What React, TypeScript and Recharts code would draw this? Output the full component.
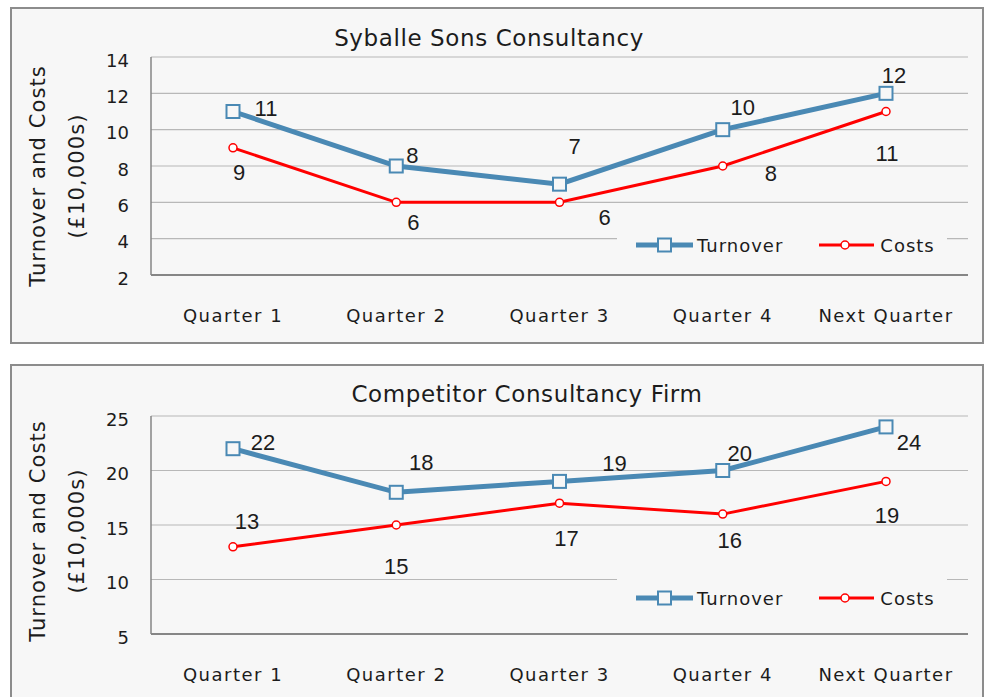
import { LineChart, Line, XAxis, YAxis, CartesianGrid } from "recharts";

const quarters = ["Quarter 1", "Quarter 2", "Quarter 3", "Quarter 4", "Next Quarter"];

const syballeTurnover = [11, 8, 7, 10, 12];
const syballeCosts = [9, 6, 6, 8, 11];
const syballeTicks = [2, 4, 6, 8, 10, 12, 14];

const competitorTurnover = [22, 18, 19, 20, 24];
const competitorCosts = [13, 15, 17, 16, 19];
const competitorTicks = [5, 10, 15, 20, 25];

// where each data label sits relative to its point (dx, dy)
const syballeTurnoverLabelPos = [[33, -3], [16, -11], [15, -38], [20, -22], [8, -18]];
const syballeCostsLabelPos = [[6, 25], [17, 20], [45, 15], [48, 7], [1, 42]];
const competitorTurnoverLabelPos = [[30, -6], [25, -30], [55, -18], [17, -17], [23, 16]];
const competitorCostsLabelPos = [[14, -25], [0, 41], [7, 35], [7, 26], [1, 34]];

const BLUE = "#4a89b4";
const RED = "#ff0000";
const BG = "#f7f7f7";
const TEXT = "#1c1c1c";
const FONT = "'DejaVu Sans', sans-serif";
const LABEL_FONT = "'Liberation Sans', sans-serif";

function SquareDot(props: any) {
  const { cx, cy, index } = props;
  if (cx == null || cy == null) return <g key={`sq-${index}`} />;
  return (
    <rect key={`sq-${index}`} x={cx - 6.5} y={cy - 6.5} width={13} height={13}
      fill={BG} stroke={BLUE} strokeWidth={2} />
  );
}

function CircleDot(props: any) {
  const { cx, cy, index } = props;
  if (cx == null || cy == null) return <g key={`ci-${index}`} />;
  return <circle key={`ci-${index}`} cx={cx} cy={cy} r={4} fill="#fff" stroke={RED} strokeWidth={1.5} />;
}

function makeLabel(pos: number[][]) {
  return (props: any) => {
    const { x, y, value, index } = props;
    const [dx, dy] = pos[index] || [0, 0];
    return (
      <text key={`lb-${index}`} x={x + dx} y={y + dy} textAnchor="middle" dominantBaseline="central"
        fontFamily={LABEL_FONT} fontSize={22} fill={TEXT}>
        {value}
      </text>
    );
  };
}

const XTick = (p: any) => (
  <text x={p.x} y={p.y + 38} textAnchor="middle" dominantBaseline="central"
    fontFamily={FONT} fontSize={18} letterSpacing={1.5} fill={TEXT}>
    {p.payload.value}
  </text>
);

const YTick = (p: any) => (
  <text x={p.x - 20} y={p.y + 3} textAnchor="end" dominantBaseline="central"
    fontFamily={FONT} fontSize={18} fill={TEXT}>
    {p.payload.value}
  </text>
);

const YLabel = ({ cy }: { cy: number }) => (
  <g fontFamily={FONT} fontSize={21} letterSpacing={1.1} fill={TEXT}>
    <text x={26} y={cy} transform={`rotate(-90, 26, ${cy})`} textAnchor="middle" dominantBaseline="central">
      Turnover and Costs
    </text>
    <text x={65} y={cy} transform={`rotate(-90, 65, ${cy})`} textAnchor="middle" dominantBaseline="central">
      (£10,000s)
    </text>
  </g>
);

function LegendBox({ left, top, height }: { left: number; top: number; height: number }) {
  return (
    <div style={{
      position: "absolute", left, top, width: 330, height, background: BG,
      display: "flex", alignItems: "center", paddingLeft: 19, boxSizing: "border-box",
      fontFamily: FONT, fontSize: 18, letterSpacing: 1, color: TEXT,
    }}>
      <svg width={57} height={16}>
        <line x1={0} y1={8} x2={57} y2={8} stroke={BLUE} strokeWidth={5} />
        <rect x={22} y={1.5} width={13} height={13} fill={BG} stroke={BLUE} strokeWidth={2} />
      </svg>
      <span style={{ marginLeft: 4 }}>Turnover</span>
      <svg width={55} height={16} style={{ marginLeft: 36 }}>
        <line x1={0} y1={8} x2={55} y2={8} stroke={RED} strokeWidth={3} />
        <circle cx={26} cy={8} r={4} fill="#fff" stroke={RED} strokeWidth={1.5} />
      </svg>
      <span style={{ marginLeft: 6 }}>Costs</span>
    </div>
  );
}

type PanelProps = {
  top: number;
  height: number;
  title: string;
  titleX: number;
  titleY: number;
  turnover: number[];
  costs: number[];
  ticks: number[];
  plotTop: number;
  xAxisHeight: number;
  labelCy: number;
  turnoverPos: number[][];
  costsPos: number[][];
  legendTop: number;
  legendHeight: number;
};

function Panel(p: PanelProps) {
  const data = quarters.map((q, i) => ({ quarter: q, turnover: p.turnover[i], costs: p.costs[i] }));
  return (
    <div style={{
      position: "absolute", left: 10, top: p.top, width: 974, height: p.height,
      border: "2px solid #8c8c8c", boxSizing: "border-box", background: BG,
    }}>
      <LineChart width={970} height={p.height - 4} data={data}
        margin={{ top: p.plotTop, right: 14, bottom: 0, left: 0 }}>
        <CartesianGrid vertical={false} stroke="#b8b8b8" strokeWidth={1.2} />
        <XAxis dataKey="quarter" height={p.xAxisHeight} padding={{ left: 82, right: 82 }}
          tickLine={false} tickSize={0} tick={<XTick />} axisLine={{ stroke: "#868686", strokeWidth: 2 }} />
        <YAxis width={139} domain={[p.ticks[0], p.ticks[p.ticks.length - 1]]} ticks={p.ticks}
          tickLine={false} tickSize={0} tick={<YTick />} axisLine={{ stroke: "#868686", strokeWidth: 1.5 }}
          label={<YLabel cy={p.labelCy} />} />
        <Line dataKey="costs" stroke={RED} strokeWidth={3} dot={CircleDot}
          label={makeLabel(p.costsPos)} isAnimationActive={false} />
        <Line dataKey="turnover" stroke={BLUE} strokeWidth={5} dot={SquareDot}
          label={makeLabel(p.turnoverPos)} isAnimationActive={false} />
      </LineChart>
      <div style={{
        position: "absolute", left: p.titleX, top: p.titleY, transform: "translate(-50%, -50%)",
        whiteSpace: "nowrap", fontFamily: FONT, fontSize: 23, letterSpacing: 0.6, color: TEXT,
      }}>
        {p.title}
      </div>
      <LegendBox left={605} top={p.legendTop} height={p.legendHeight} />
    </div>
  );
}

export default function App() {
  return (
    <div style={{ position: "absolute", left: 0, top: 0, width: 984, height: 697, background: "#fff", overflow: "hidden" }}>
      <Panel top={7} height={337} title="Syballe Sons Consultancy" titleX={477} titleY={29}
        turnover={syballeTurnover} costs={syballeCosts} ticks={syballeTicks}
        plotTop={48} xAxisHeight={67} labelCy={167}
        turnoverPos={syballeTurnoverLabelPos} costsPos={syballeCostsLabelPos}
        legendTop={220} legendHeight={32} />
      <Panel top={364} height={347} title="Competitor Consultancy Firm" titleX={515} titleY={28}
        turnover={competitorTurnover} costs={competitorCosts} ticks={competitorTicks}
        plotTop={50} xAxisHeight={75} labelCy={165}
        turnoverPos={competitorTurnoverLabelPos} costsPos={competitorCostsLabelPos}
        legendTop={210} legendHeight={44} />
    </div>
  );
}
